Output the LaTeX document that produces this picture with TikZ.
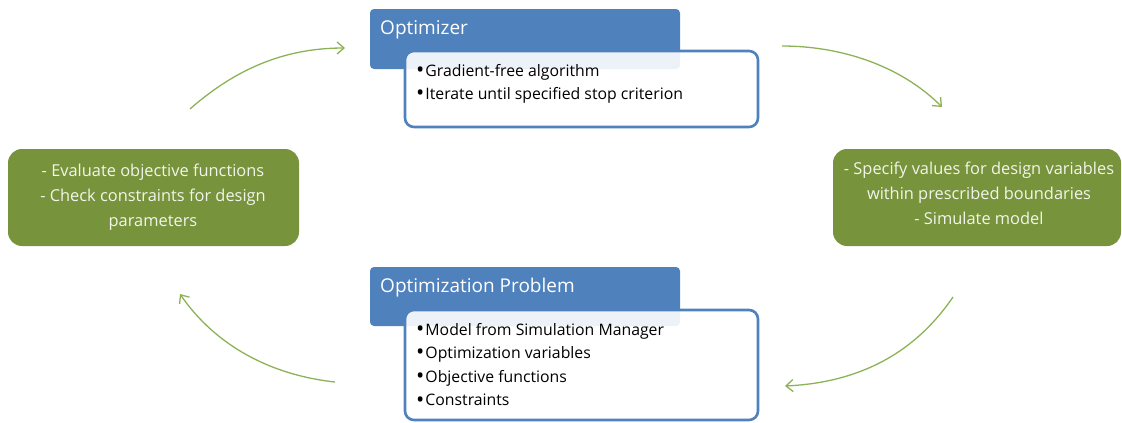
\documentclass[tikz,border=0pt]{standalone}
\usepackage{fontspec}
\setmainfont{Open Sans}
\usetikzlibrary{arrows.meta}
\definecolor{hdblue}{HTML}{4F81BD}
\definecolor{boxgreen}{HTML}{77933C}
\definecolor{arrgreen}{HTML}{8DB255}
\definecolor{lighttext}{HTML}{F2F5EA}
\newcommand{\mybul}{{\fontsize{22}{0}\selectfont\raisebox{-0.08em}{\textbullet}}\hspace{1pt}}
\begin{document}
\begin{tikzpicture}[x=1pt,y=-1pt,
  header/.style={fill=hdblue, rounded corners=4pt, inner sep=0pt},
  listbox/.style={draw=hdblue, line width=2.6pt, fill=white, fill opacity=0.9, rounded corners=9pt, inner sep=0pt},
  stepbox/.style={fill=boxgreen, rounded corners=14pt, inner sep=0pt},
  htext/.style={text=white, font=\fontsize{19}{22}\selectfont, anchor=west, inner sep=0pt},
  ltext/.style={text=black, font=\fontsize{15.8}{18}\selectfont, anchor=west, inner sep=0pt, text opacity=1},
  gtext/.style={text=lighttext, font=\fontsize{16.4}{25}\selectfont, align=center, inner sep=0pt},
  flow/.style={draw=arrgreen, line width=1.3pt, -{Straight Barb[length=7pt,width=12pt,line width=1.3pt]}}
]
\useasboundingbox (0,0) rectangle (1122,423);

% Optimizer
\path[header] (370,9) rectangle (680,69);
\node[htext] (opth) at (380,30) {Optimizer};
\path[listbox] (405,51) rectangle (758,127);
\node[ltext] (opt1) at (416,72) {\mybul Gradient-free algorithm};
\node[ltext] (opt2) at (416,95) {\mybul Iterate until specified stop criterion};

% Optimization Problem
\path[header] (370,267) rectangle (680,326);
\node[htext] (probh) at (380,288) {Optimization Problem};
\path[listbox] (405,310) rectangle (758,420);
\node[ltext] (p1) at (416,331) {\mybul Model from Simulation Manager};
\node[ltext] (p2) at (416,354) {\mybul Optimization variables};
\node[ltext] (p3) at (416,378) {\mybul Objective functions};
\node[ltext] (p4) at (416,401) {\mybul Constraints};

% Green boxes
\path[stepbox] (8,149) rectangle (299,246);
\node[gtext] (left) at (153,197) {- Evaluate objective functions\\- Check constraints for design\\parameters};
\path[stepbox] (833,149) rectangle (1121,246);
\node[gtext] (right) at (979,193) {- Specify values for design variables\\within prescribed boundaries\\- Simulate model};

% Arrows
\coordinate (a1s) at (190,109);
\coordinate (a1e) at (345,48);
\coordinate (a2s) at (782,46);
\coordinate (a2e) at (942,107);
\coordinate (a3s) at (953,297);
\coordinate (a3e) at (785,386);
\coordinate (a4s) at (335,382);
\coordinate (a4e) at (180,294);
\draw[flow] (a1s) .. controls (240,65) and (290,48) .. (a1e);
\draw[flow] (a2s) .. controls (840,46) and (900,65) .. (a2e);
\draw[flow] (a3s) .. controls (910,360) and (850,383) .. (a3e);
\draw[flow] (a4s) .. controls (270,375) and (215,345) .. (a4e);
\end{tikzpicture}
\end{document}
